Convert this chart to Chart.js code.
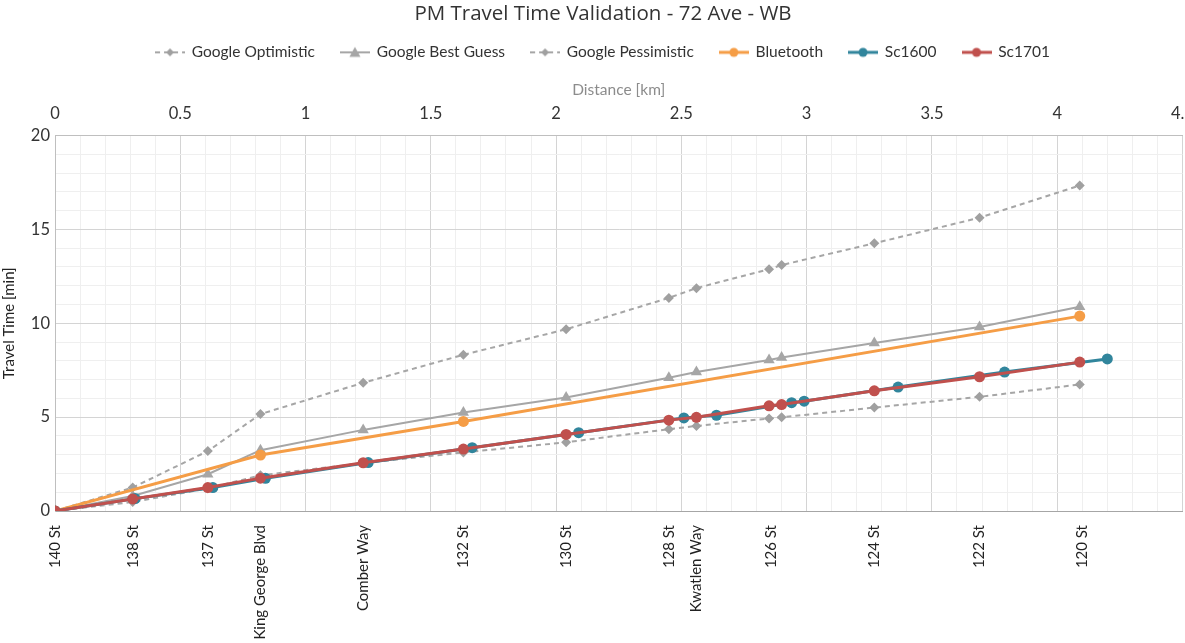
<!DOCTYPE html>
<html>
<head>
<meta charset="utf-8">
<script src="https://cdn.jsdelivr.net/npm/chart.js@4"></script>
<style>
  html, body { margin: 0; padding: 0; background: #fff; overflow: hidden; }
  #wrap { width: 1206px; height: 643px; }
</style>
</head>
<body>
<div id="wrap"><canvas id="travelChart"></canvas></div>
<script>
// street labels along the bottom (distance in km from 140 St)
const streetNames = ["140 St", "138 St", "137 St", "King George Blvd", "Comber Way", "132 St", "130 St", "128 St", "Kwatlen Way", "126 St", "124 St", "122 St", "120 St"];
const streetDist = [0, 0.31, 0.61, 0.82, 1.23, 1.63, 2.04, 2.45, 2.56, 2.86, 3.27, 3.69, 4.1];

// Google estimates (min)
const googleDist = [0, 0.31, 0.61, 0.82, 1.23, 1.63, 2.04, 2.45, 2.56, 2.85, 2.90, 3.27, 3.69, 4.09];
const googleOptimistic = [0, 0.48, 1.2, 1.9, 2.55, 3.12, 3.66, 4.36, 4.53, 4.93, 4.99, 5.51, 6.08, 6.74];
const googleBestGuess = [0, 0.8, 1.96, 3.24, 4.32, 5.25, 6.04, 7.1, 7.4, 8.04, 8.17, 8.95, 9.8, 10.88];
const googlePessimistic = [0, 1.25, 3.19, 5.16, 6.83, 8.32, 9.68, 11.35, 11.87, 12.88, 13.1, 14.26, 15.62, 17.34];

// observed / simulated
const bluetoothDist = [0, 0.82, 1.63, 4.09];
const bluetooth = [0, 2.98, 4.77, 10.38];
const sc1600Dist = [0, 0.32, 0.63, 0.84, 1.25, 1.665, 2.09, 2.51, 2.64, 2.94, 2.99, 3.365, 3.79, 4.2];
const sc1600 = [0, 0.66, 1.25, 1.74, 2.58, 3.37, 4.17, 4.96, 5.1, 5.77, 5.85, 6.6, 7.4, 8.1];
const sc1701Dist = [0, 0.31, 0.61, 0.82, 1.23, 1.63, 2.04, 2.45, 2.56, 2.85, 2.90, 3.27, 3.69, 4.09];
const sc1701 = [0, 0.64, 1.25, 1.75, 2.57, 3.3, 4.08, 4.84, 4.99, 5.6, 5.67, 6.4, 7.15, 7.93];

const pts = (xs, ys) => xs.map((x, i) => ({ x: x, y: ys[i] }));
const font = "Lato, 'Open Sans', sans-serif";

const datasets = [
  { label: "Google Optimistic", data: pts(googleDist, googleOptimistic), borderColor: "#a6a6a6", pointBackgroundColor: "#a0a0a0",
    borderWidth: 2, borderDash: [5, 4], pointStyle: "rectRot", pointRadius: 5, order: 4 },
  { label: "Google Best Guess", data: pts(googleDist, googleBestGuess), borderColor: "#a6a6a6", pointBackgroundColor: "#a6a6a6",
    borderWidth: 2, pointStyle: "triangle", pointRadius: 6.5, order: 3 },
  { label: "Google Pessimistic", data: pts(googleDist, googlePessimistic), borderColor: "#a6a6a6", pointBackgroundColor: "#a0a0a0",
    borderWidth: 2, borderDash: [5, 4], pointStyle: "rectRot", pointRadius: 5, order: 5 },
  { label: "Bluetooth", data: pts(bluetoothDist, bluetooth), borderColor: "#f59d46", pointBackgroundColor: "#f59d46",
    borderWidth: 3, pointStyle: "circle", pointRadius: 5.5, order: 2 },
  { label: "Sc1600", data: pts(sc1600Dist, sc1600), borderColor: "#31859c", pointBackgroundColor: "#31859c",
    borderWidth: 3, pointStyle: "circle", pointRadius: 5.5, order: 1 },
  { label: "Sc1701", data: pts(sc1701Dist, sc1701), borderColor: "#c0504d", pointBackgroundColor: "#c0504d",
    borderWidth: 3, pointStyle: "circle", pointRadius: 5.5, order: 0 }
];
datasets.forEach(d => { d.pointBorderWidth = 0; d.pointBorderColor = d.pointBackgroundColor; d.tension = 0; d.fill = false; });

// little line+marker pictures for the legend
function legendIcon(ds) {
  const c = document.createElement("canvas");
  c.width = 30; c.height = 14;
  const g = c.getContext("2d");
  g.strokeStyle = ds.borderColor;
  g.lineWidth = ds.borderWidth;
  g.setLineDash(ds.borderDash || []);
  g.beginPath(); g.moveTo(0, 7); g.lineTo(30, 7); g.stroke();
  g.fillStyle = ds.pointBackgroundColor;
  g.beginPath();
  if (ds.pointStyle === "rectRot") {
    g.moveTo(15, 3); g.lineTo(19, 7); g.lineTo(15, 11); g.lineTo(11, 7);
  } else if (ds.pointStyle === "triangle") {
    g.moveTo(15, 1.5); g.lineTo(20.5, 11.5); g.lineTo(9.5, 11.5);
  } else {
    g.arc(15, 7, 4.5, 0, Math.PI * 2);
  }
  g.closePath(); g.fill();
  return c;
}
const icons = datasets.map(legendIcon);

const isMajorKm = v => Math.round(v * 10) % 5 === 0;

const chart = new Chart(document.getElementById("travelChart"), {
  type: "line",
  data: { datasets: datasets },
  options: {
    responsive: true,
    maintainAspectRatio: false,
    animation: false,
    layout: { padding: 0 },
    plugins: {
      title: {
        display: true,
        text: "PM Travel Time Validation - 72 Ave - WB",
        color: "#333",
        font: { family: "'Open Sans', sans-serif", size: 20.5, weight: "normal" },
        padding: { top: 2, bottom: -8 }
      },
      legend: {
        position: "top",
        labels: {
          usePointStyle: true,
          pointStyleWidth: 28,
          padding: 26,
          color: "#333",
          font: { family: font, size: 15.5 },
          sort: (a, b) => a.datasetIndex - b.datasetIndex,
          generateLabels: ch => Chart.defaults.plugins.legend.labels.generateLabels(ch)
            .map(l => Object.assign(l, { pointStyle: icons[l.datasetIndex], lineWidth: 0 }))
        }
      },
      tooltip: { enabled: false }
    },
    scales: {
      x: {
        type: "linear",
        position: "top",
        min: 0, max: 4.5,
        title: { display: true, text: "Distance [km]", color: "#8c8c8c", font: { family: font, size: 15.5 }, padding: { top: 11, bottom: -8 } },
        ticks: {
          stepSize: 0.1, autoSkip: false, maxRotation: 0, padding: 12,
          color: "#333", font: { family: font, size: 16.5 },
          callback: v => isMajorKm(v) ? String(+v.toFixed(1)) : ""
        },
        grid: { drawTicks: false, color: c => isMajorKm(c.tick.value) ? "#d4d4d4" : "#efefef" },
        border: { color: "#bfbfbf" }
      },
      xb: {
        type: "linear",
        axis: "x",
        position: "bottom",
        min: 0, max: 4.5,
        afterBuildTicks: a => { a.ticks = streetDist.map(v => ({ value: v })); },
        afterFit: a => { a.height = 132; },
        ticks: {
          autoSkip: false, minRotation: 90, maxRotation: 90, padding: 6,
          color: "#222", font: { family: font, size: 15 },
          callback: (v, i) => streetNames[i]
        },
        grid: { display: false },
        border: { display: true, color: "#a6a6a6" }
      },
      y: {
        min: 0, max: 20,
        afterFit: a => { a.width = 55; },
        title: { display: true, text: "Travel Time [min]", color: "#222", font: { family: font, size: 15 }, padding: { top: 0, bottom: 4 } },
        ticks: {
          stepSize: 1, autoSkip: false, padding: 5,
          color: "#333", font: { family: font, size: 16.5 },
          callback: v => v % 5 === 0 ? v : ""
        },
        grid: { drawTicks: false, color: c => c.tick.value % 5 === 0 ? "#d4d4d4" : "#efefef" },
        border: { color: "#bfbfbf" }
      }
    }
  }
});
</script>
</body>
</html>
